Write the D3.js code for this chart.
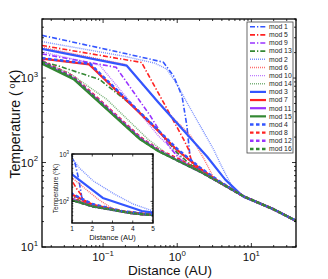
<!DOCTYPE html>
<html>
<head>
<meta charset="utf-8">
<script src="https://cdn.jsdelivr.net/npm/d3@7"></script>
<style>
body { margin: 0; background: #fff; }
svg { display: block; font-family: "Liberation Sans", Arial, sans-serif; }
</style>
</head>
<body>
<div id="chart"></div>
<script>
// temperature profiles, [distance AU, temperature K]
var baseCurve = [[0.015,1500],[0.04,970],[0.112,427],[0.316,188],[0.56,136],[1.0,106],[2.05,78],[4.0,56],[7.9,39.7],[20,27.9],[40,20.4]];

var mod1 = [[0.015,3200],[0.2,1950],[0.65,1540],[0.89,1064],[1.16,615],[1.35,271],[1.5,110]];
var mod5 = [[0.015,2430],[0.33,1530],[0.73,430],[1.22,188],[1.42,143],[1.6,95]];
var mod9 = [[0.015,1930],[0.15,1340],[0.43,360],[0.8,150],[1.1,108]];
var mod13 = [[0.015,1560],[0.025,1390],[0.09,960],[0.25,470],[0.56,240],[1.0,130],[1.5,95]];
var mod2 = [[0.015,2700],[0.2,1800],[0.5,1500],[0.72,1280],[0.99,849],[1.35,514],[2.05,270],[3.09,143],[4.02,88],[5.77,48]];
var mod6 = [[0.015,2310],[0.2,1450],[0.45,640],[0.75,390],[1.5,210],[2.3,110],[3.1,66]];
var mod10 = [[0.015,2040],[0.09,1420],[0.56,206],[1.0,125],[1.4,95]];
var mod14 = [[0.015,1540],[0.035,1150],[0.112,560],[0.4,190],[0.8,118]];
var mod3 = [[0.015,2210],[0.209,1400],[0.554,518],[2.52,118],[4.45,62.8],[7.8,39.4]];
var mod7 = [[0.015,1700],[0.065,1450],[0.43,295],[1.0,140],[2.0,86],[3.5,61]];
var mod11 = [[0.015,1530],[0.04,990],[0.112,440],[0.316,193],[0.56,138]];
var mod15 = [[0.015,1480]];
var mod4 = [[0.015,1720],[0.067,1470],[0.43,300],[1.0,145],[2.0,88],[3.5,62]];
var mod8 = [[0.015,1600],[0.04,1040],[0.112,460],[0.316,200],[0.56,142],[1.0,112],[2.05,80]];
var mod12 = [[0.015,1580],[0.04,1020],[0.112,450],[0.316,196],[0.56,140],[1.0,108]];
var mod16 = [[0.015,1560],[0.04,1000],[0.112,437],[0.316,190],[0.56,137]];

var seriesNames = ["mod 1","mod 5","mod 9","mod 13","mod 2","mod 6","mod 10","mod 14",
                   "mod 3","mod 7","mod 11","mod 15","mod 4","mod 8","mod 12","mod 16"];
var seriesHeads = [mod1,mod5,mod9,mod13,mod2,mod6,mod10,mod14,mod3,mod7,mod11,mod15,mod4,mod8,mod12,mod16];

var xTicks = [0.1, 1, 10];
var yTicks = [10, 100, 1000];
var insetXTicks = [1, 2, 3, 4, 5];
var insetYTicks = [100, 1000];

var colors = ["#3355ff", "#ff2222", "#9933ff", "#338833"];
// line styles: dash-dot, dotted, solid, dashed
var styles = [
  { width: 1.6, dash: "5,2,1.3,2", opacity: 1 },
  { width: 1.4, dash: "1,1", opacity: 0.65 },
  { width: 2.2, dash: null, opacity: 1 },
  { width: 2.4, dash: "3.5,2.5", opacity: 1 }
];

function fullSeries(head) {
  var last = head[head.length - 1][0];
  return head.concat(baseCurve.filter(function (p) { return p[0] > last * 1.15; }));
}

var series = seriesNames.map(function (name, i) {
  return { name: name, data: fullSeries(seriesHeads[i]), color: colors[i % 4], style: styles[Math.floor(i / 4)] };
});

var svg = d3.select("#chart").append("svg").attr("width", 328).attr("height", 279);

var box = { left: 42, right: 296, top: 19, bottom: 247 };
var x = d3.scaleLog().domain([0.015, 40]).range([box.left, box.right]);
var y = d3.scaleLog().domain([10, 5000]).range([box.bottom, box.top]);

svg.append("clipPath").attr("id", "clipMain").append("rect")
  .attr("x", box.left).attr("y", box.top)
  .attr("width", box.right - box.left).attr("height", box.bottom - box.top);

function logMinor(domain) {
  var vals = [];
  for (var d = Math.floor(Math.log10(domain[0])); d <= Math.ceil(Math.log10(domain[1])); d++) {
    for (var k = 1; k < 10; k++) {
      var v = k * Math.pow(10, d);
      if (v >= domain[0] * 0.999 && v <= domain[1] * 1.001) vals.push({ v: v, major: k === 1 });
    }
  }
  return vals;
}

function drawLines(g, xs, ys, clipId) {
  var line = d3.line()
    .x(function (d) { return xs(d[0]); })
    .y(function (d) { return ys(d[1]); });
  var lg = g.append("g").attr("clip-path", "url(#" + clipId + ")");
  series.forEach(function (s) {
    lg.append("path")
      .attr("d", line(s.data))
      .attr("fill", "none")
      .attr("stroke", s.color)
      .attr("stroke-width", s.style.width)
      .attr("stroke-linejoin", "round")
      .attr("stroke-dasharray", s.style.dash)
      .attr("stroke-opacity", s.style.opacity);
  });
}

function powLabel(g, px, py, exp, anchor, size) {
  var t = g.append("text")
    .attr("x", px).attr("y", py)
    .attr("text-anchor", anchor)
    .style("font-size", size + "px")
    .attr("fill", "#111");
  t.append("tspan").text("10");
  t.append("tspan").attr("dy", -size * 0.45).style("font-size", (size * 0.68) + "px").text(exp);
}

// main plot lines
drawLines(svg, x, y, "clipMain");

// main ticks
var tk = svg.append("g").attr("stroke", "#000").attr("stroke-width", 0.8);
logMinor(x.domain()).forEach(function (t) {
  var len = t.major ? 4 : 2;
  var px = x(t.v);
  tk.append("line").attr("x1", px).attr("x2", px).attr("y1", box.bottom).attr("y2", box.bottom - len);
  tk.append("line").attr("x1", px).attr("x2", px).attr("y1", box.top).attr("y2", box.top + len);
});
logMinor(y.domain()).forEach(function (t) {
  var len = t.major ? 4 : 2;
  var py = y(t.v);
  tk.append("line").attr("x1", box.left).attr("x2", box.left + len).attr("y1", py).attr("y2", py);
  tk.append("line").attr("x1", box.right).attr("x2", box.right - len).attr("y1", py).attr("y2", py);
});

svg.append("rect")
  .attr("x", box.left).attr("y", box.top)
  .attr("width", box.right - box.left).attr("height", box.bottom - box.top)
  .attr("fill", "none").attr("stroke", "#000").attr("stroke-width", 1.3);

xTicks.forEach(function (v) {
  powLabel(svg, x(v), 261, String(Math.round(Math.log10(v))).replace("-", "\u2212"), "middle", 11.5);
});
yTicks.forEach(function (v) {
  powLabel(svg, 38, y(v) + 4, String(Math.round(Math.log10(v))), "end", 11.5);
});

svg.append("text")
  .attr("x", 170).attr("y", 275)
  .attr("text-anchor", "middle").style("font-size", "13.5px").attr("fill", "#111")
  .text("Distance (AU)");

var yl = svg.append("text")
  .attr("transform", "translate(20,124) rotate(-90)")
  .attr("text-anchor", "middle").style("font-size", "14px").attr("fill", "#111");
yl.append("tspan").text("Temperature (\u2009");
yl.append("tspan").attr("dy", -5).style("font-size", "9px").text("o");
yl.append("tspan").attr("dy", 5).text("K)");

// legend
var leg = { x: 247, y: 22, w: 46, h: 131 };
var lg = svg.append("g");
lg.append("rect").attr("x", leg.x).attr("y", leg.y).attr("width", leg.w).attr("height", leg.h)
  .attr("fill", "#fff").attr("stroke", "#444").attr("stroke-width", 0.8);
series.forEach(function (s, i) {
  var ly = 26.7 + i * 8.15;
  lg.append("line")
    .attr("x1", 250).attr("x2", 266).attr("y1", ly).attr("y2", ly)
    .attr("stroke", s.color)
    .attr("stroke-width", s.style.width)
    .attr("stroke-dasharray", s.style.dash)
    .attr("stroke-opacity", s.style.opacity);
  lg.append("text").attr("x", 269).attr("y", ly + 2.3)
    .style("font-size", "6.8px").attr("fill", "#222").text(s.name);
});

// inset
var ib = { left: 72, right: 153, top: 154, bottom: 223 };
var xi = d3.scaleLinear().domain([1, 5]).range([ib.left, ib.right]);
var yi = d3.scaleLog().domain([35, 1000]).range([ib.bottom, ib.top]);

svg.append("clipPath").attr("id", "clipInset").append("rect")
  .attr("x", ib.left).attr("y", ib.top)
  .attr("width", ib.right - ib.left).attr("height", ib.bottom - ib.top);

var ig = svg.append("g");
ig.append("rect").attr("x", ib.left).attr("y", ib.top)
  .attr("width", ib.right - ib.left).attr("height", ib.bottom - ib.top).attr("fill", "#fff");
drawLines(ig, xi, yi, "clipInset");

var itk = ig.append("g").attr("stroke", "#000").attr("stroke-width", 0.7);
insetXTicks.forEach(function (v) {
  var px = xi(v);
  itk.append("line").attr("x1", px).attr("x2", px).attr("y1", ib.bottom).attr("y2", ib.bottom - 2.5);
  itk.append("line").attr("x1", px).attr("x2", px).attr("y1", ib.top).attr("y2", ib.top + 2.5);
  ig.append("text").attr("x", px).attr("y", 231).attr("text-anchor", "middle")
    .style("font-size", "6.5px").attr("fill", "#111").text(v);
});
logMinor(yi.domain()).forEach(function (t) {
  var len = t.major ? 2.5 : 1.3;
  var py = yi(t.v);
  itk.append("line").attr("x1", ib.left).attr("x2", ib.left + len).attr("y1", py).attr("y2", py);
  itk.append("line").attr("x1", ib.right).attr("x2", ib.right - len).attr("y1", py).attr("y2", py);
});
insetYTicks.forEach(function (v) {
  powLabel(ig, 69, yi(v) + 2.5, String(Math.round(Math.log10(v))), "end", 6.5);
});
ig.append("rect").attr("x", ib.left).attr("y", ib.top)
  .attr("width", ib.right - ib.left).attr("height", ib.bottom - ib.top)
  .attr("fill", "none").attr("stroke", "#000").attr("stroke-width", 1.4);

ig.append("text").attr("x", (ib.left + ib.right) / 2).attr("y", 240)
  .attr("text-anchor", "middle").style("font-size", "7.5px").attr("fill", "#111")
  .text("Distance (AU)");
var iyl = ig.append("text")
  .attr("transform", "translate(58," + ((ib.top + ib.bottom) / 2) + ") rotate(-90)")
  .attr("text-anchor", "middle").style("font-size", "6.5px").attr("fill", "#111");
iyl.append("tspan").text("Temperature (");
iyl.append("tspan").attr("dy", -2.5).style("font-size", "4.5px").text("o");
iyl.append("tspan").attr("dy", 2.5).text("K)");
</script>
</body>
</html>
